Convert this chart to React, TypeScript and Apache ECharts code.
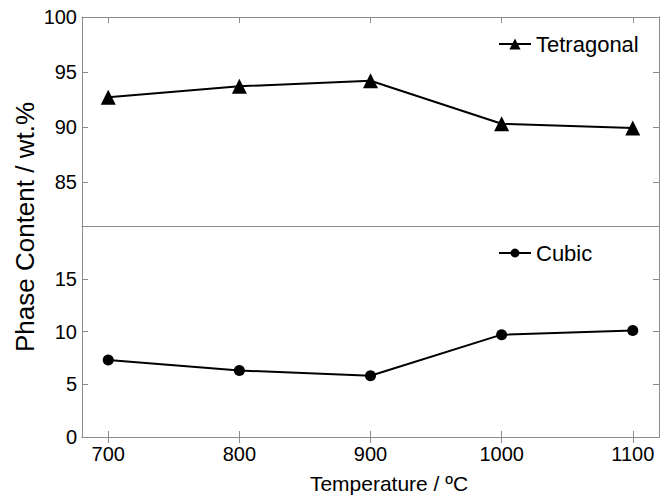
import React, { useEffect, useRef } from "react";
import * as echarts from "echarts";

const temperatures = [700, 800, 900, 1000, 1100];
const tetragonal = [92.7, 93.7, 94.2, 90.3, 89.9];
const cubic = [7.3, 6.3, 5.8, 9.7, 10.1];
const xTicks = [700, 800, 900, 1000, 1100];
const topYTicks = [85, 90, 95, 100];
const bottomYTicks = [0, 5, 10, 15];

const FONT = "'Liberation Sans', Arial, sans-serif";
const AXIS_COLOR = "#8c8c8c";

export default function App() {
  const ref = useRef<HTMLDivElement>(null);
  useEffect(() => {
    if (!ref.current) return;
    const chart = echarts.init(ref.current, undefined, { renderer: "svg" });
    const lineStyle = { color: AXIS_COLOR, width: 1 };
    const tickIn = { show: true, inside: true, length: 6, lineStyle };
    const xBase = (gridIndex: number, position: string, showTicks: boolean, showLabels: boolean) => ({
      type: "value",
      gridIndex,
      position,
      min: 680,
      max: 1120,
      axisLine: { show: true, lineStyle },
      axisTick: showTicks ? { ...tickIn, customValues: xTicks } : { show: false },
      axisLabel: showLabels
        ? {
            show: true,
            customValues: xTicks,
            fontSize: 20,
            color: "#000",
            fontFamily: FONT,
            margin: 7,
            formatter: (v: number) => String(v),
          }
        : { show: false },
      splitLine: { show: false },
    });
    const yBase = (gridIndex: number, position: string, min: number, max: number, ticks: number[], showLabels: boolean) => ({
      type: "value",
      gridIndex,
      position,
      min,
      max,
      axisLine: { show: true, lineStyle },
      axisTick: { ...tickIn, customValues: ticks },
      axisLabel: showLabels
        ? { show: true, customValues: ticks, fontSize: 20, color: "#000", fontFamily: FONT, margin: 5 }
        : { show: false },
      splitLine: { show: false },
    });
    chart.setOption({
      animation: false,
      backgroundColor: "#fff",
      grid: [
        { left: 82, right: 9, top: 17, height: 209 },
        { left: 82, right: 9, top: 226, height: 211 },
      ],
      xAxis: [
        xBase(0, "bottom", false, false),
        xBase(0, "top", true, false),
        xBase(1, "bottom", true, true),
        xBase(1, "top", true, false),
      ],
      yAxis: [
        yBase(0, "left", 81, 100, topYTicks, true),
        yBase(0, "right", 81, 100, topYTicks, false),
        yBase(1, "left", 0, 20, bottomYTicks, true),
        yBase(1, "right", 0, 20, bottomYTicks, false),
      ],
      legend: [
        {
          data: ["Tetragonal"],
          left: 498,
          top: 33,
          padding: 0,
          itemWidth: 32,
          itemHeight: 14,
          textStyle: { fontSize: 22, color: "#000", fontFamily: FONT },
        },
        {
          data: ["Cubic"],
          left: 498,
          top: 242,
          padding: 0,
          itemWidth: 32,
          itemHeight: 11,
          textStyle: { fontSize: 22, color: "#000", fontFamily: FONT },
        },
      ],
      graphic: [
        {
          type: "text",
          x: 25,
          y: 227,
          rotation: Math.PI / 2,
          style: {
            text: "Phase Content / wt.%",
            fontSize: 26,
            fontFamily: FONT,
            fill: "#000",
            textAlign: "center",
            textVerticalAlign: "middle",
          },
        },
        {
          type: "text",
          x: 389,
          y: 483,
          style: {
            text: "Temperature / ºC",
            fontSize: 21,
            fontFamily: FONT,
            fill: "#000",
            textAlign: "center",
            textVerticalAlign: "middle",
          },
        },
      ],
      series: [
        {
          name: "Tetragonal",
          type: "line",
          xAxisIndex: 0,
          yAxisIndex: 0,
          data: temperatures.map((t, i) => [t, tetragonal[i]]),
          symbol: "triangle",
          symbolSize: 15,
          lineStyle: { color: "#000", width: 2 },
          itemStyle: { color: "#000" },
        },
        {
          name: "Cubic",
          type: "line",
          xAxisIndex: 2,
          yAxisIndex: 2,
          data: temperatures.map((t, i) => [t, cubic[i]]),
          symbol: "circle",
          symbolSize: 11,
          lineStyle: { color: "#000", width: 2 },
          itemStyle: { color: "#000" },
        },
      ],
    });
    return () => chart.dispose();
  }, []);
  return (
    <div
      ref={ref}
      style={{ position: "fixed", left: 0, top: 0, width: 668, height: 499 }}
    />
  );
}
